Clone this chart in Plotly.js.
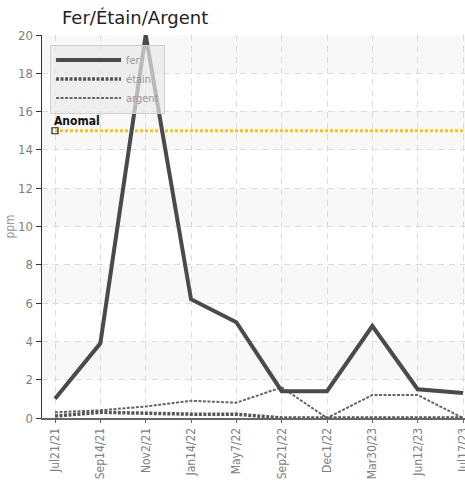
<!DOCTYPE html>
<html><head><meta charset="utf-8">
<script src="https://cdn.plot.ly/plotly-3.0.1.min.js"></script>
<style>html,body{margin:0;padding:0;background:#fff;}#chart{width:465px;height:480px;}</style>
</head><body><div id="chart"></div>
<script>
const dates = ["Jul21/21","Sep14/21","Nov2/21","Jan14/22","May7/22","Sep21/22","Dec1/22","Mar30/23","Jun12/23","Jul17/23"];
const fer = [1.0, 3.9, 20, 6.2, 5.0, 1.4, 1.4, 4.8, 1.5, 1.3];
const etain = [0.1, 0.3, 0.25, 0.2, 0.2, 0, 0, 0, 0, 0];
const argent = [0.3, 0.4, 0.6, 0.9, 0.8, 1.6, 0, 1.2, 1.2, 0];
const anomalLevel = 15;
const anomalLabel = "Anomal";
const yTicks = [0,2,4,6,8,10,12,14,16,18,20];

const narrow = '"DejaVu Sans Condensed", "Liberation Sans Narrow", sans-serif';
const traces = [
  {x: dates, y: dates.map(() => anomalLevel), type: 'scatter', mode: 'lines', showlegend: false, hoverinfo: 'skip',
   line: {color: '#f5c80a', width: 3, dash: '3px,2px'}},
  {x: [dates[0]], y: [anomalLevel], type: 'scatter', mode: 'markers', showlegend: false,
   marker: {symbol: 'square-open', size: 6, color: '#222', line: {width: 1.2}}},
  {x: dates, y: argent, name: 'argent', type: 'scatter', mode: 'lines', line: {color: '#666', width: 2, dash: '3px,1.5px'}},
  {x: dates, y: etain, name: 'étain', type: 'scatter', mode: 'lines', line: {color: '#555', width: 3.5, dash: '3px,1.5px'}},
  {x: dates, y: fer, name: 'fer', type: 'scatter', mode: 'lines', line: {color: '#4a4a4a', width: 4}}
];
const bands = [];
for (let v = 2; v < 20; v += 4) {
  bands.push({type: 'rect', xref: 'paper', yref: 'y', x0: 0, x1: 1, y0: v, y1: v + 2, fillcolor: '#f8f8f8', line: {width: 0}, layer: 'below'});
}
const layout = {
  width: 465, height: 480,
  margin: {l: 42, r: 0, t: 35, b: 62},
  paper_bgcolor: '#fff', plot_bgcolor: 'rgba(0,0,0,0)',
  title: {text: 'Fer/Étain/Argent', x: 62/465, xanchor: 'left', xref: 'container', y: 1 - 18/480, yanchor: 'middle',
          font: {family: '"DejaVu Sans", sans-serif', size: 18, color: '#222'}},
  xaxis: {type: 'category', range: [-0.287, 9.044], tickangle: -90, showgrid: true, gridcolor: '#dcdcdc', griddash: '6px,5px',
          showline: true, linecolor: '#666', linewidth: 2, ticks: 'outside', ticklen: 3, tickcolor: '#666',
          tickfont: {family: narrow, size: 12, color: '#808080'}, zeroline: false, fixedrange: true},
  yaxis: {range: [0, 20], tickvals: yTicks, showgrid: true, gridcolor: '#dcdcdc', griddash: '6px,5px',
          showline: true, linecolor: '#333', linewidth: 1.5, ticks: 'outside', ticklen: 5, tickcolor: '#333',
          tickfont: {family: narrow, size: 13, color: '#808080'}, zeroline: false,
          title: {text: 'ppm', font: {family: narrow, size: 12, color: '#999'}, standoff: 1}},
  legend: {x: 0.019, y: 0.975, xanchor: 'left', yanchor: 'top', bgcolor: 'rgba(232,232,232,0.7)', bordercolor: '#cfcfcf', borderwidth: 1,
           font: {family: narrow, size: 11, color: '#999'}, itemwidth: 65, traceorder: 'reversed', tracegroupgap: 0},
  shapes: bands,
  annotations: [{x: dates[0], y: anomalLevel, xref: 'x', yref: 'y', text: '<b>' + anomalLabel + '</b>', showarrow: false, xanchor: 'left', yanchor: 'bottom',
                 xshift: -3, yshift: 1, font: {family: '"DejaVu Sans Condensed", "DejaVu Sans", sans-serif', size: 12, color: '#111'}}],
  showlegend: true
};
Plotly.newPlot('chart', traces, layout, {displayModeBar: false, staticPlot: true});
</script></body></html>
